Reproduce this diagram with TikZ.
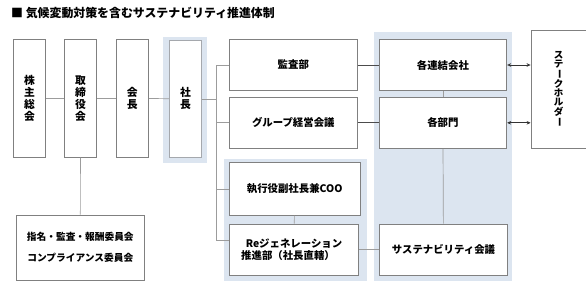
\documentclass[tikz,border=0pt]{standalone}
\usepackage{fontspec}
\setmainfont{Noto Sans CJK JP}
\usetikzlibrary{arrows.meta,positioning}

\definecolor{hlblue}{HTML}{DCE5F0}
\definecolor{boxline}{HTML}{808080}
\definecolor{connline}{HTML}{9C9C9C}
\newcommand{\fsz}[2]{\fontsize{#1}{#2}\selectfont}
\newcommand{\tate}{\rotatebox[origin=c]{-90}{ー}}

\begin{document}
\begin{tikzpicture}[x=1pt, y=-1pt, >=Stealth,
	box/.style={draw=boxline, fill=white, line width=0.8pt, inner sep=0pt, align=center, font=\fsz{10.4}{12}\bfseries},
	vbox/.style={box, minimum width=32.4pt, minimum height=118pt, font=\fsz{10.8}{12}\bfseries},
	wbox/.style={box, minimum width=128pt, minimum height=51.4pt},
	conn/.style={draw=connline, line width=0.7pt},
	biarrow/.style={<->, line width=0.7pt, draw=black!80, >={Stealth[length=4pt,width=3.6pt]}}]
	
	\clip (0,0) rectangle (586,281);
	
	\node[anchor=west, inner sep=0pt, font=\fsz{11.9}{13}\bfseries] (title) at (11,12.5) {■ 気候変動対策を含むサステナビリティ推進体制};
	
	% highlighted areas
	\fill[hlblue] (163.3,37.3) rectangle (207.3,162.7);
	\fill[hlblue] (224,159.3) rectangle (367.3,281);
	\fill[hlblue] (374,32) rectangle (511.7,281);
	
	\node[vbox] (kabunushi) at (29.5,98.3) {株\\主\\総\\会};
	\node[vbox] (torishimari) at (80.5,98.3) {取\\締\\役\\会};
	\node[vbox] (kaicho) at (132.2,98.3) {会\\長};
	\node[vbox, draw=boxline!60!hlblue, minimum height=116.3pt] (shacho) at (185.5,98.9) {社\\長};
	
	\node[box, minimum width=127.3pt, minimum height=65pt, font=\fsz{9.7}{20.7}\bfseries] (iinkai) at (80.3,247.5) {指名・監査・報酬委員会\\コンプライアンス委員会};
	
	\node[wbox] (kansa) at (293.3,65) {監査部};
	\node[wbox] (group) at (293.3,122.8) {グループ経営会議};
	\node[wbox, minimum width=130.7pt, minimum height=52.6pt] (coo) at (294.7,189) {執行役副社長兼COO};
	\node[wbox, minimum width=129.4pt, minimum height=51pt] (regen) at (294,249.5) {Reジェネレーション\\推進部（社長直轄）\hspace*{12pt}};
	
	\node[wbox, minimum width=127.7pt] (renketsu) at (442.9,65) {各連結会社};
	\node[wbox, minimum width=127.7pt] (bumon) at (442.9,122.8) {各部門};
	\node[wbox, minimum width=128.4pt, minimum height=51pt] (sustain) at (443.5,249.5) {サステナビリティ会議};
	
	\node[box, minimum width=55pt, minimum height=118.3pt, font=\fsz{9.5}{8.9}\bfseries] (stake) at (558.5,89.2) {ス\\テ\\\tate\\ク\\ホ\\ル\\ダ\\\tate};
	
	\coordinate (trunktop) at (216.7,65);
	\coordinate (trunkbot) at (216.7,240.7);
	
	% connectors
	\draw[conn] (kabunushi) -- (torishimari);
	\draw[conn] (torishimari) -- (kaicho);
	\draw[conn] (kaicho) -- (shacho);
	\draw[conn] (shacho) -- (shacho -| trunktop);
	\draw[conn] (torishimari) -- (iinkai);
	\draw[conn] (trunktop) -- (trunkbot);
	\draw[conn] (trunktop) -- (kansa.west);
	\draw[conn] (group.west -| trunktop) -- (group.west);
	\draw[conn] (coo.west -| trunktop) -- (coo.west);
	\draw[conn] (trunkbot) -- (trunkbot -| regen.west);
	\draw[conn] (coo) -- (regen);
	\draw[conn, draw=black!70] (kansa) -- (renketsu);
	\draw[conn, draw=black!70] (group) -- (bumon);
	\draw[conn] (regen) -- (sustain);
	\draw[conn] (renketsu) -- (bumon);
	\draw[conn] (bumon) -- (sustain);
	
	\draw[biarrow] (renketsu.east) -- (renketsu.east -| stake.west);
	\draw[biarrow] (bumon.east) -- (bumon.east -| stake.west);
	
\end{tikzpicture}
\end{document}
